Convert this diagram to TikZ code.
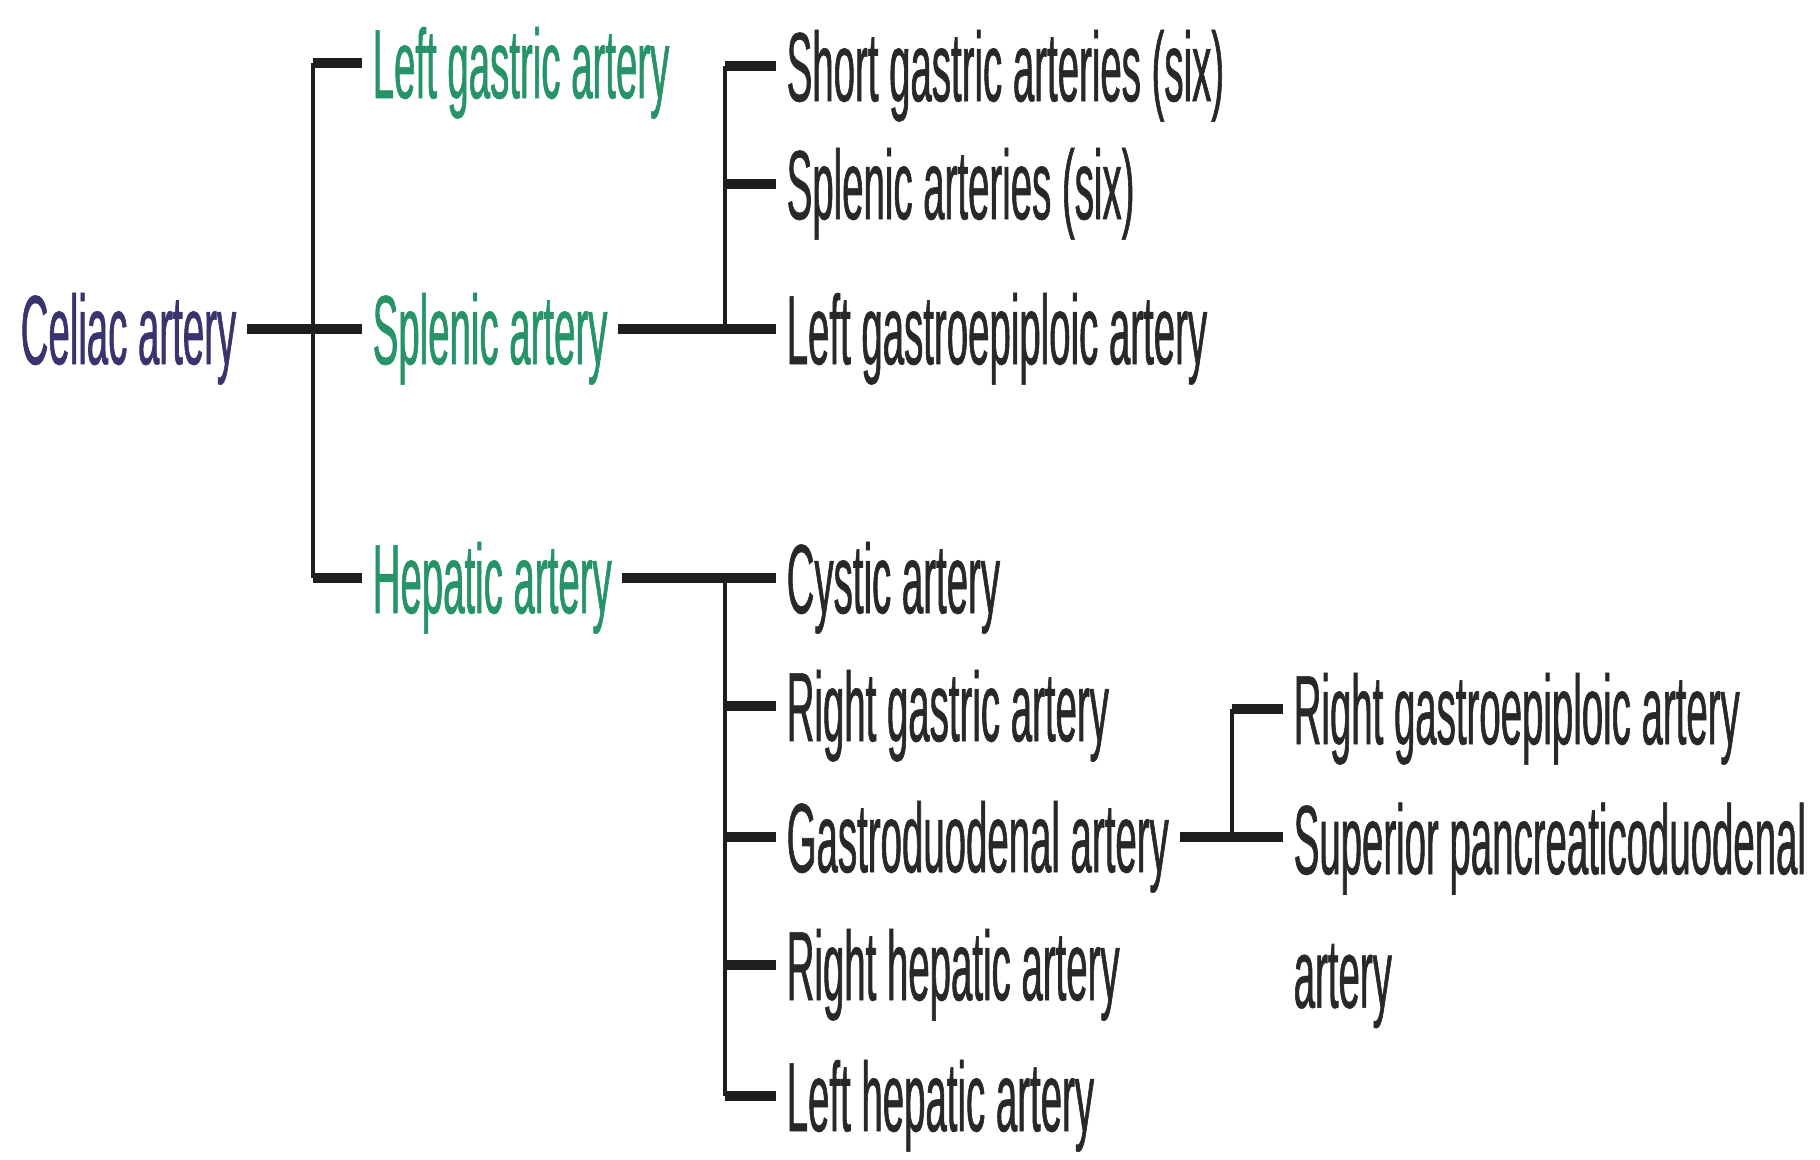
\documentclass[tikz,border=0pt]{standalone}
\usepackage{fontspec}
\newfontfamily\condfont{Liberation Sans}[FakeStretch=0.39,FakeBold=0.6]
\definecolor{celiacblue}{RGB}{58,52,110}
\definecolor{branchgreen}{RGB}{38,148,102}
\definecolor{txtgray}{RGB}{40,40,40}
\definecolor{linegray}{RGB}{30,30,30}

\begin{document}
\begin{tikzpicture}[x=0.01cm,y=-0.01cm,
  txt/.style={inner xsep=0.1cm, inner ysep=0pt, text=txtgray,
    font=\condfont\fontsize{28}{38}\selectfont},
  lbl/.style={txt, anchor=west, text height=20pt, text depth=0pt},
  main/.style={lbl, text=branchgreen},
  tick/.style={draw=linegray, line width=2.6pt},
  bus/.style={draw=linegray, line width=1.3pt}]
\useasboundingbox (0,0) rectangle (1820,1160);

% trunk and first branches
\node[lbl, text=celiacblue] (celiac) at (10,329) {Celiac artery};
\node[main] (lga) at (362,63) {Left gastric artery};
\node[main] (spl) at (362,329) {Splenic artery};
\node[main] (hep) at (362,578) {Hepatic artery};

% splenic branches
\node[lbl] (sga) at (776,66) {Short gastric arteries (six)};
\node[lbl] (sa) at (776,184) {Splenic arteries (six)};
\node[lbl] (lgea) at (776,329) {Left gastroepiploic artery};

% hepatic branches
\node[lbl] (cys) at (776,578) {Cystic artery};
\node[lbl] (rga) at (776,706) {Right gastric artery};
\node[lbl] (gda) at (776,837) {Gastroduodenal artery};
\node[lbl] (rha) at (776,965) {Right hepatic artery};
\node[lbl] (lha) at (776,1096) {Left hepatic artery};

% gastroduodenal branches
\node[lbl] (rgea) at (1283,709) {Right gastroepiploic artery};
\node[txt, align=left, anchor=north west] (spd) at (1283,802) {Superior pancreaticoduodenal\\artery};

\coordinate (b1) at (313,329);
\coordinate (b2) at (725,329);
\coordinate (b3) at (725,578);
\coordinate (b4) at (1232,837);

\draw[bus] (b1 |- lga) -- (b1 |- hep);
\draw[tick] (celiac) -- (spl);
\draw[tick] (b1 |- lga) -- (lga);
\draw[tick] (b1 |- hep) -- (hep);

\draw[bus] (b2 |- sga) -- (b2 |- lgea);
\draw[tick] (spl) -- (lgea);
\draw[tick] (b2 |- sga) -- (sga);
\draw[tick] (b2 |- sa) -- (sa);

\draw[bus] (b3 |- cys) -- (b3 |- lha);
\draw[tick] (hep) -- (cys);
\draw[tick] (b3 |- rga) -- (rga);
\draw[tick] (b3 |- gda) -- (gda);
\draw[tick] (b3 |- rha) -- (rha);
\draw[tick] (b3 |- lha) -- (lha);

\draw[bus] (b4 |- rgea) -- (b4 |- gda);
\draw[tick] (gda) -- (gda -| spd.west);
\draw[tick] (b4 |- rgea) -- (rgea);
\end{tikzpicture}
\end{document}
